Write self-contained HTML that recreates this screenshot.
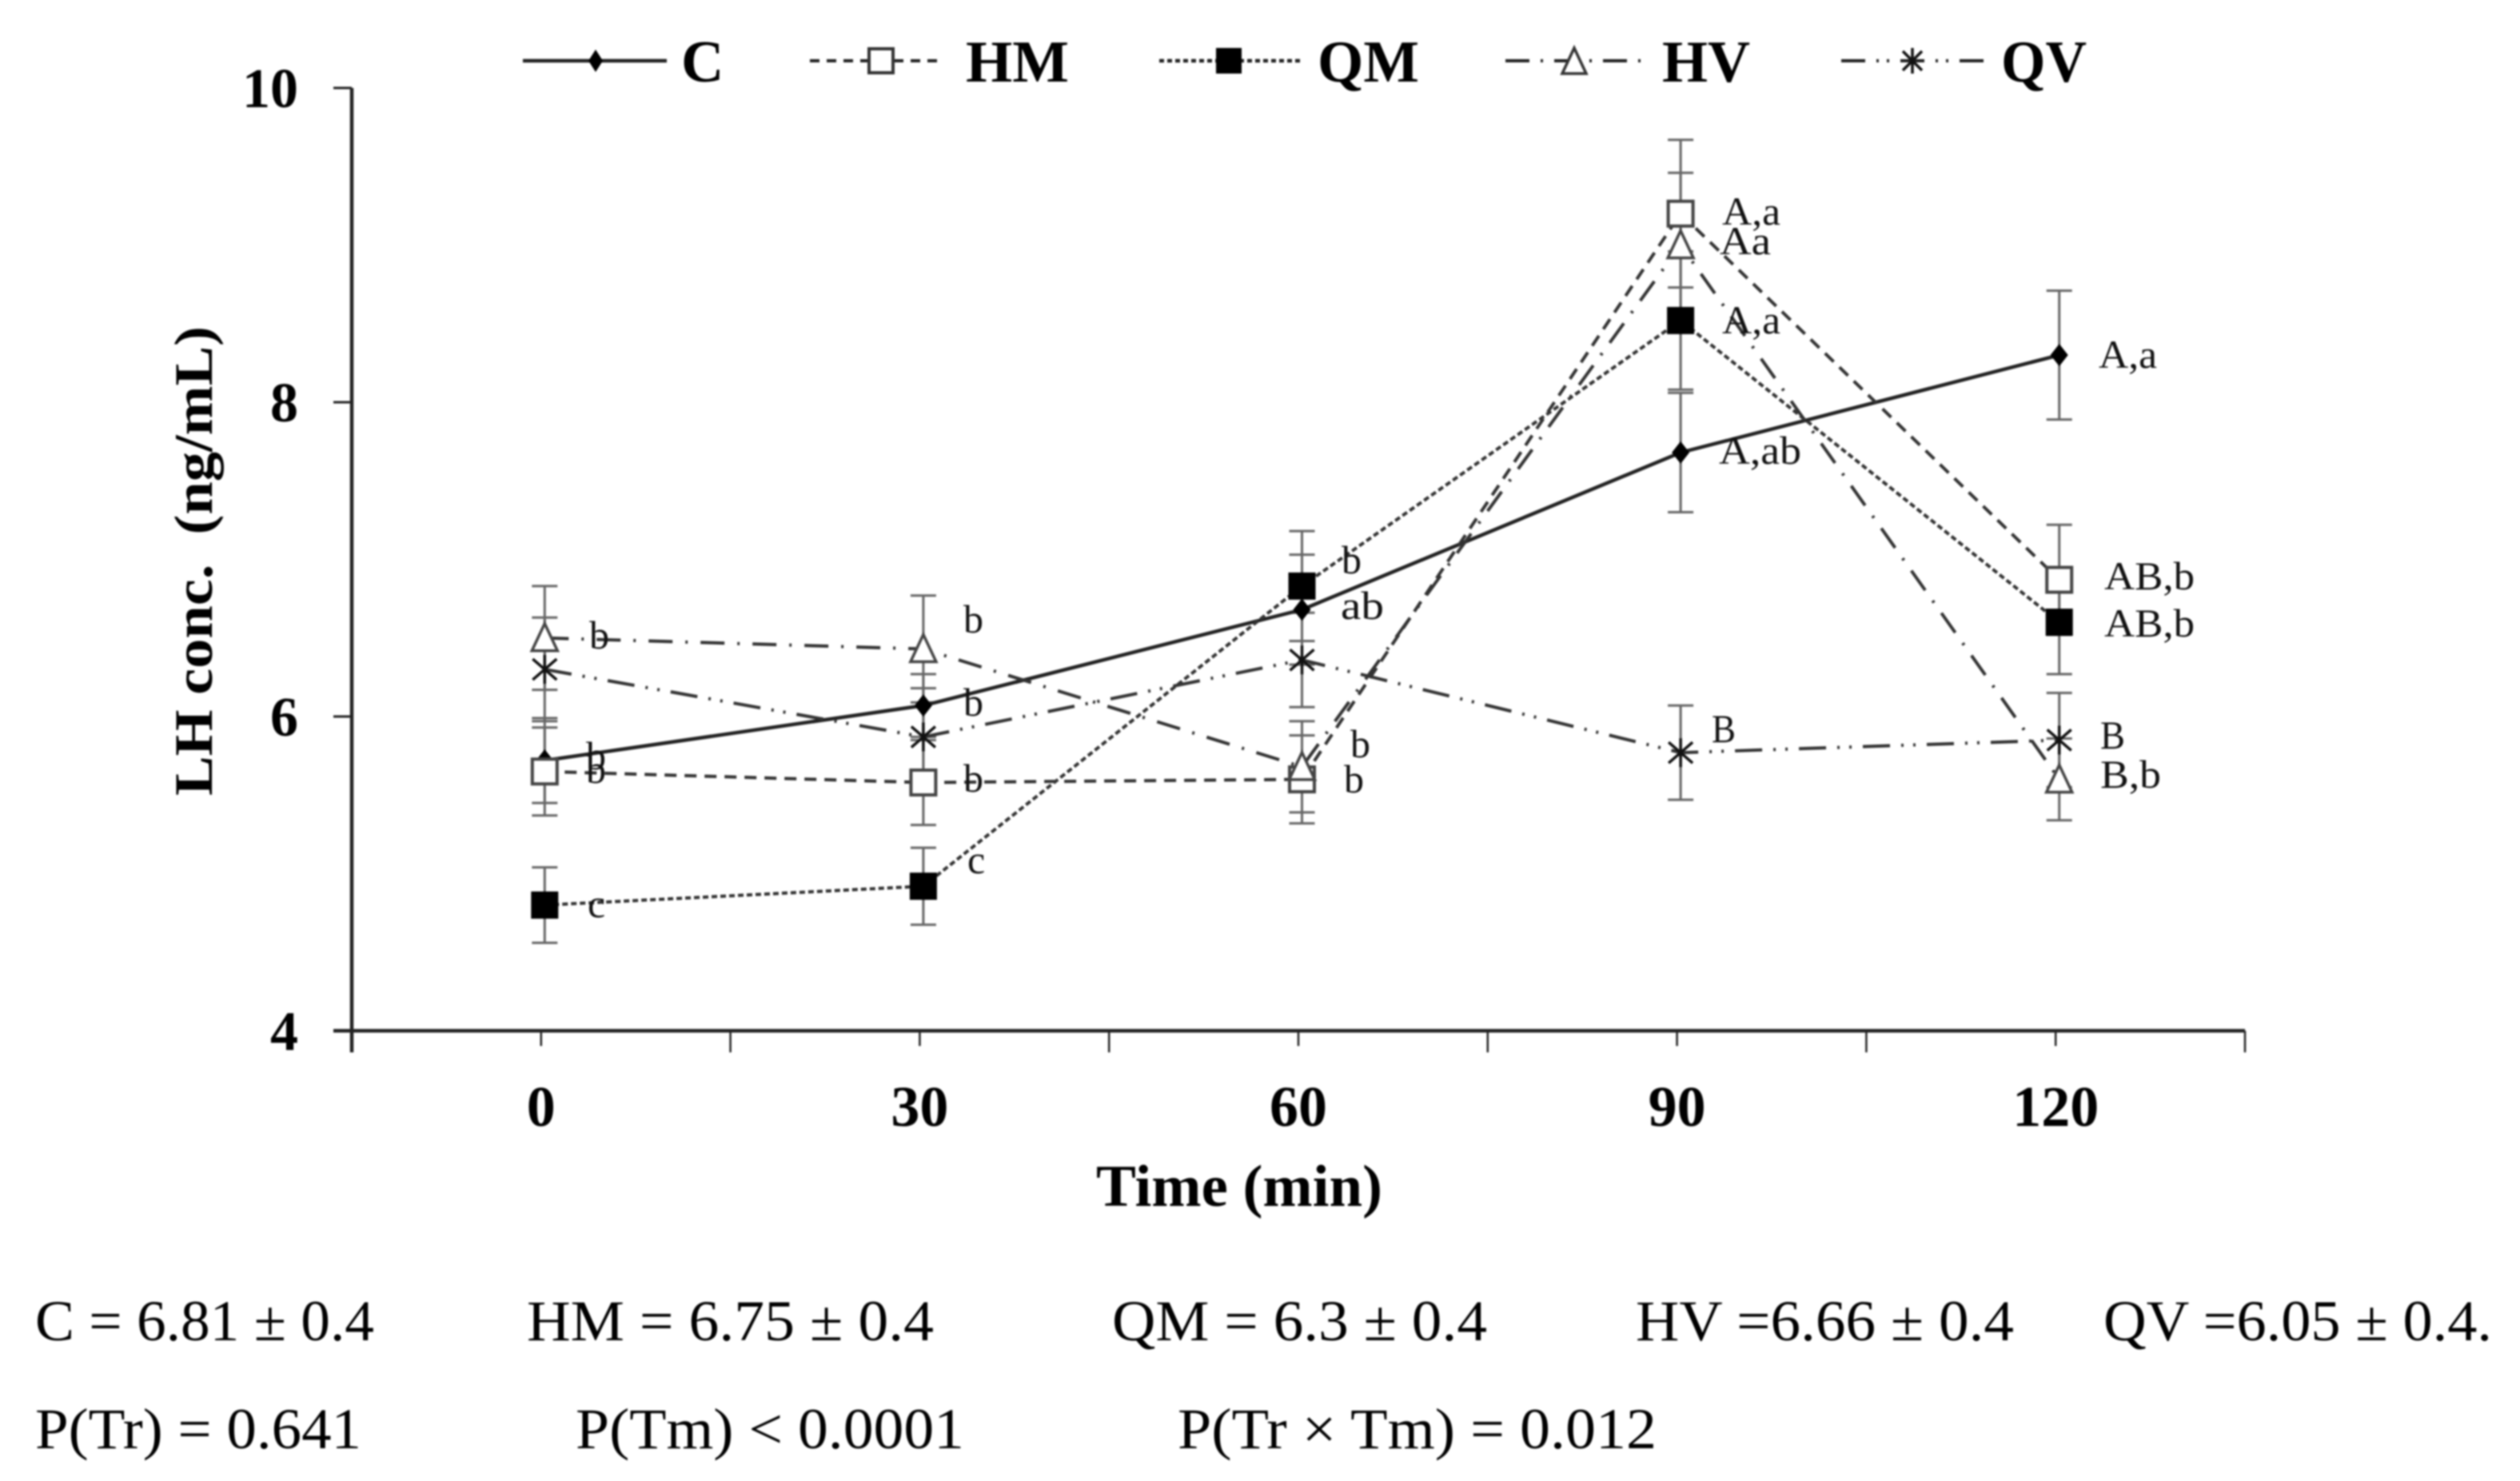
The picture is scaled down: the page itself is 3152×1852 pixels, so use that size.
<!DOCTYPE html>
<html lang="en">
<head>
<meta charset="utf-8">
<title>LH concentration over time</title>
<style>
html,body{margin:0;padding:0;background:#fff;}
#chart{display:block;width:3152px;height:1852px;filter:blur(1.1px);}
text{font-family:"Liberation Serif",serif;fill:#000;}
.note{font-size:72px;}
.ann{font-size:50px;fill:#111;}
.leg{font-size:74px;font-weight:bold;}
</style>
</head>
<body>
<svg id="chart" xmlns="http://www.w3.org/2000/svg" width="3152" height="1852" viewBox="0 0 3152 1852">
  <rect width="3152" height="1852" fill="#fff"/>
  <g id="axes"></g>
  <g id="errors"></g>
  <g id="lines"></g>
  <g id="markers"></g>

  <g stroke="#222">
    <g>
      <line x1="654" y1="76" x2="834" y2="76" stroke-width="4.5"/>
      <path d="M745 62L754 76L745 90L736 76Z" fill="#000" stroke="none"/>
      <text class="leg" x="852" y="102" stroke="none">C</text>
    </g>
    <g>
      <line x1="1013" y1="76" x2="1176" y2="76" stroke-width="4" stroke-dasharray="12 9"/>
      <rect x="1087" y="61" width="30" height="30" fill="#fff" stroke="#333" stroke-width="4"/>
      <text class="leg" x="1208" y="102" stroke="none" textLength="129" lengthAdjust="spacingAndGlyphs">HM</text>
    </g>
    <g>
      <line x1="1450" y1="76" x2="1629" y2="76" stroke-width="4.5" stroke-dasharray="6 4"/>
      <rect x="1521" y="60" width="32" height="32" fill="#000" stroke="none"/>
      <text class="leg" x="1648" y="102" stroke="none" textLength="127" lengthAdjust="spacingAndGlyphs">QM</text>
    </g>
    <g>
      <line x1="1883" y1="76" x2="2057" y2="76" stroke-width="4" stroke-dasharray="30 14 3 14"/>
      <path d="M1969 60L1984 92H1954Z" fill="#fff" stroke="#333" stroke-width="3.5"/>
      <text class="leg" x="2079" y="102" stroke="none" textLength="110" lengthAdjust="spacingAndGlyphs">HV</text>
    </g>
    <g>
      <line x1="2303" y1="76" x2="2481" y2="76" stroke-width="4" stroke-dasharray="30 14 3 10 3 14"/>
      <path d="M2392 60V92M2380 64L2404 88M2404 64L2380 88" fill="none" stroke="#111" stroke-width="3.5"/>
      <text class="leg" x="2503" y="102" stroke="none" textLength="107" lengthAdjust="spacingAndGlyphs">QV</text>
    </g>
  </g>

  <text x="265" y="995" transform="rotate(-90 265 995)" font-size="68" font-weight="bold" textLength="587" lengthAdjust="spacingAndGlyphs" xml:space="preserve">LH conc.  (ng/mL)</text>
  <text x="1371" y="1508" font-size="74" font-weight="bold" textLength="358" lengthAdjust="spacingAndGlyphs">Time (min)</text>

  <g>
    <text class="ann" x="737" y="811">b</text>
    <text class="ann" x="733" y="962">b</text>
    <text class="ann" x="733" y="979">b</text>
    <text class="ann" x="735" y="1147">c</text>
    <text class="ann" x="1205" y="791">b</text>
    <text class="ann" x="1205" y="895">b</text>
    <text class="ann" x="1205" y="990">b</text>
    <text class="ann" x="1210" y="1092">c</text>
    <text class="ann" x="1678" y="717">b</text>
    <text class="ann" x="1677" y="774" textLength="54" lengthAdjust="spacingAndGlyphs">ab</text>
    <text class="ann" x="1689" y="947">b</text>
    <text class="ann" x="1681" y="991">b</text>
    <text class="ann" x="2154" y="281" textLength="73" lengthAdjust="spacingAndGlyphs">A,a</text>
    <text class="ann" x="2151" y="318" textLength="64" lengthAdjust="spacingAndGlyphs">Aa</text>
    <text class="ann" x="2154" y="417" textLength="73" lengthAdjust="spacingAndGlyphs">A,a</text>
    <text class="ann" x="2150" y="580" textLength="103" lengthAdjust="spacingAndGlyphs">A,ab</text>
    <text class="ann" x="2141" y="928" textLength="30" lengthAdjust="spacingAndGlyphs">B</text>
    <text class="ann" x="2625" y="460" textLength="73" lengthAdjust="spacingAndGlyphs">A,a</text>
    <text class="ann" x="2632" y="737" textLength="113" lengthAdjust="spacingAndGlyphs">AB,b</text>
    <text class="ann" x="2632" y="796" textLength="113" lengthAdjust="spacingAndGlyphs">AB,b</text>
    <text class="ann" x="2627" y="936" textLength="31" lengthAdjust="spacingAndGlyphs">B</text>
    <text class="ann" x="2627" y="985" textLength="76" lengthAdjust="spacingAndGlyphs">B,b</text>
  </g>

  <g>
    <text class="note" x="44" y="1676" textLength="424" lengthAdjust="spacingAndGlyphs">C = 6.81 ± 0.4</text>
    <text class="note" x="659" y="1676" textLength="509" lengthAdjust="spacingAndGlyphs">HM = 6.75 ± 0.4</text>
    <text class="note" x="1391" y="1676" textLength="469" lengthAdjust="spacingAndGlyphs">QM = 6.3 ± 0.4</text>
    <text class="note" x="2046" y="1676" textLength="473" lengthAdjust="spacingAndGlyphs">HV =6.66 ± 0.4</text>
    <text class="note" x="2631" y="1676" textLength="486" lengthAdjust="spacingAndGlyphs">QV =6.05 ± 0.4.</text>
  </g>
  <g>
    <text class="note" x="44" y="1811" textLength="408" lengthAdjust="spacingAndGlyphs">P(Tr) = 0.641</text>
    <text class="note" x="720" y="1811" textLength="486" lengthAdjust="spacingAndGlyphs">P(Tm) &lt; 0.0001</text>
    <text class="note" x="1473" y="1811" textLength="599" lengthAdjust="spacingAndGlyphs">P(Tr × Tm) = 0.012</text>
  </g>
</svg>

<script>
const times = [0, 30, 60, 90, 120];
const xTickLabels = ["0", "30", "60", "90", "120"];
const yTicks = [4, 6, 8, 10];

const valuesC  = [5.72, 6.07, 6.68, 7.68, 8.30];
const valuesHM = [5.65, 5.58, 5.60, 9.20, 6.87];
const valuesQM = [4.80, 4.92, 6.83, 8.52, 6.60];
const valuesHV = [6.50, 6.43, 5.68, 9.00, 5.60];
const valuesQV = [6.30, 5.87, 6.36, 5.77, 5.85];

const errorC  = [0.27, 0.20, 0.35, 0.38, 0.41];
const errorHM = [0.28, 0.27, 0.28, 0.47, 0.35];
const errorQM = [0.24, 0.245, 0.35, 0.44, 0.33];
const errorHV = [0.33, 0.34, 0.29, 0.46, 0.26];
const errorQV = [0.33, 0.31, 0.30, 0.30, 0.30];

const NS = "http://www.w3.org/2000/svg";
const X0 = 440, X1 = 2808, YBOTTOM = 1289, YTOP = 110, POINT_SHIFT = 4.5;
const xAxis = t => X0 + (t + 15) * (X1 - X0) / 150;
const yAxis = v => YBOTTOM - (v - 4) * (YBOTTOM - YTOP) / 6;
const xPoint = t => xAxis(t) + POINT_SHIFT;

function mk(tag, parent, attrs) {
  const el = document.createElementNS(NS, tag);
  for (const k in attrs) el.setAttribute(k, attrs[k]);
  parent.appendChild(el);
  return el;
}

const axes = document.getElementById("axes");
const errorsG = document.getElementById("errors");
const linesG = document.getElementById("lines");
const markersG = document.getElementById("markers");

const yLine = mk("line", axes, {x1: X0, y1: YTOP, x2: X0, y2: 1316, stroke: "#222", "stroke-width": 4.5});


const xLine = mk("line", axes, {x1: 417, y1: YBOTTOM, x2: X1, y2: YBOTTOM, stroke: "#222", "stroke-width": 4.5});



yTicks.forEach(v => {
  const tick = mk("line", axes, {x1: 417, y1: yAxis(v), x2: X0, y2: yAxis(v), stroke: "#222", "stroke-width": 3});
  
  
  const label = mk("text", axes, {x: 373, y: yAxis(v) + 24, "text-anchor": "end", "font-size": 70, "font-weight": "bold"});
  
  
  label.textContent = String(v);
});

for (let t = -15; t <= 135; t += 15) {
  const major = (t + 15) % 30 === 0;
  const tick = mk("line", axes, {x1: xAxis(t), y1: YBOTTOM, x2: xAxis(t), y2: major ? 1316 : 1308, stroke: "#222", "stroke-width": 2.5});
  
  
}
times.forEach((t, i) => {
  const label = mk("text", axes, {x: xAxis(t), y: 1408, "text-anchor": "middle", "font-size": 72, "font-weight": "bold"});
  
  
  label.textContent = xTickLabels[i];
});

const drawDiamond = (x, y) => mk("path", markersG, {d: `M${x} ${y-14}L${x+11} ${y}L${x} ${y+14}L${x-11} ${y}Z`, fill: "#000"});
const drawOpenSquare = (x, y) => mk("rect", markersG, {x: x-15.5, y: y-15.5, width: 31, height: 31, fill: "#fff", stroke: "#444", "stroke-width": 4});
const drawSolidSquare = (x, y) => mk("rect", markersG, {x: x-17, y: y-17, width: 34, height: 34, fill: "#000"});
const drawTriangle = (x, y) => mk("path", markersG, {d: `M${x} ${y-18}L${x+16} ${y+16}H${x-16}Z`, fill: "#fff", stroke: "#444", "stroke-width": 3.5});
const drawStar = (x, y) => mk("path", markersG, {d: `M${x} ${y-18}V${y+18}M${x-15} ${y-13}L${x+15} ${y+13}M${x+15} ${y-13}L${x-15} ${y+13}`, fill: "none", stroke: "#111", "stroke-width": 3.5});

const series = [
  {key: "c",  values: valuesC,  errors: errorC,  dash: "",            width: 4.5, color: "#222", marker: drawDiamond},
  {key: "hm", values: valuesHM, errors: errorHM, dash: "15 10",       width: 4,   color: "#333", marker: drawOpenSquare},
  {key: "qm", values: valuesQM, errors: errorQM, dash: "7 4",         width: 4,   color: "#333", marker: drawSolidSquare},
  {key: "hv", values: valuesHV, errors: errorHV, dash: "30 16 3 16",  width: 4,   color: "#333", marker: drawTriangle},
  {key: "qv", values: valuesQV, errors: errorQV, dash: "34 14 3 12 3 14", width: 4, color: "#333", marker: drawStar}
];

series.forEach(s => {
  s.values.forEach((v, i) => {
    const x = xPoint(times[i]);
    const hi = yAxis(v + s.errors[i]);
    const lo = yAxis(v - s.errors[i]);
    const bar = mk("path", errorsG, {
      d: `M${x} ${hi}V${lo}M${x-16} ${hi}H${x+16}M${x-16} ${lo}H${x+16}`,
      fill: "none", stroke: "#666", "stroke-width": 3
    });
    
    
  });
  const pts = s.values.map((v, i) => xPoint(times[i]) + "," + yAxis(v)).join(" ");
  const line = mk("polyline", linesG, {points: pts, fill: "none", stroke: s.color, "stroke-width": s.width});
  if (s.dash) line.setAttribute("stroke-dasharray", s.dash);
  
  
});

series.forEach(s => {
  s.values.forEach((v, i) => {
    const m = s.marker(xPoint(times[i]), yAxis(v));
    
    
  });
});
</script>
</body>
</html>
